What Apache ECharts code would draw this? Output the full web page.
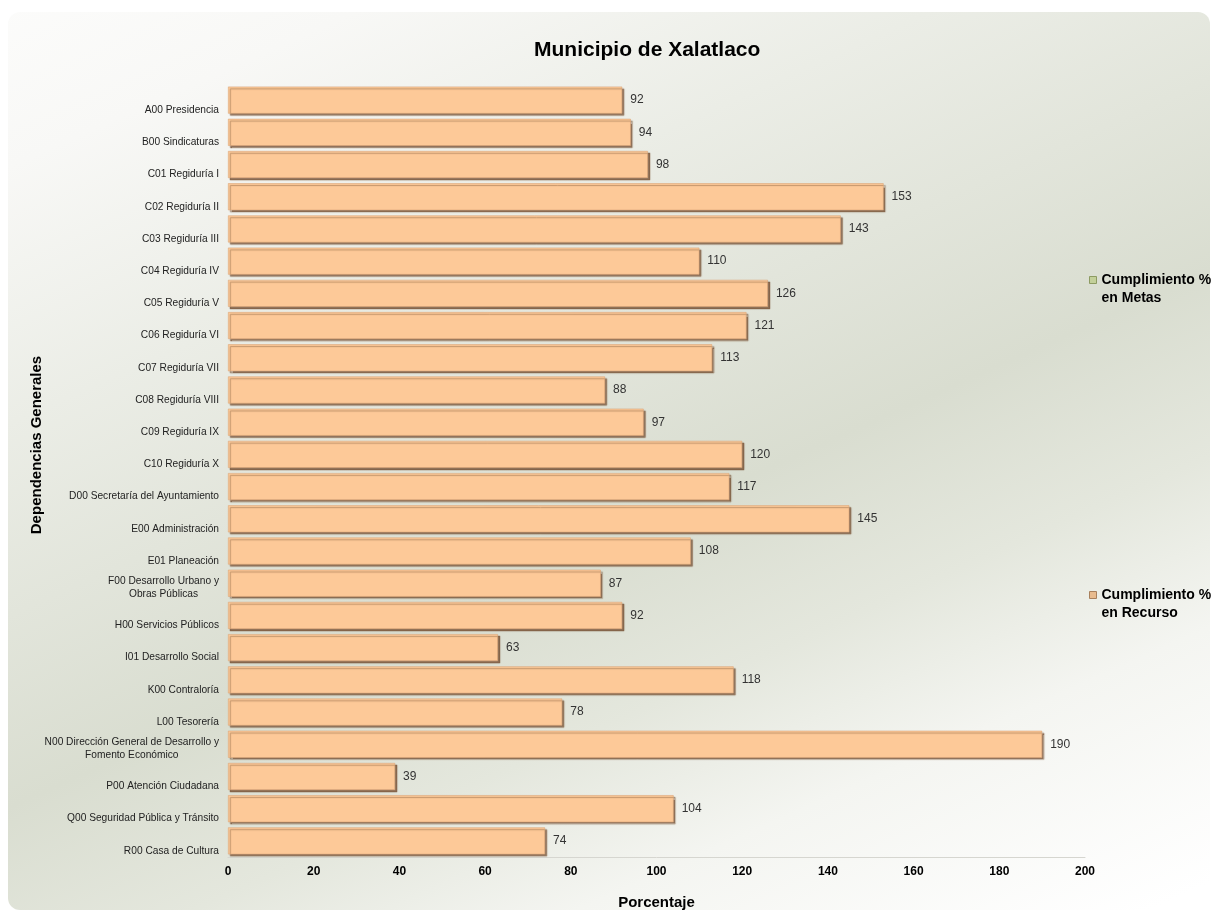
<!DOCTYPE html>
<html><head><meta charset="utf-8">
<script src="https://cdn.jsdelivr.net/npm/echarts@6/dist/echarts.min.js"></script>
<style>html,body{margin:0;padding:0;background:#fff}#c{width:1214px;height:913px}</style>
</head><body><div id="c"></div>
<script>
const categories = ['A00 Presidencia','B00 Sindicaturas','C01 Regiduría I','C02 Regiduría II','C03 Regiduría III','C04 Regiduría IV','C05 Regiduría V','C06 Regiduría VI','C07 Regiduría VII','C08 Regiduría VIII','C09 Regiduría IX','C10 Regiduría X','D00 Secretaría del Ayuntamiento','E00 Administración','E01 Planeación','F00 Desarrollo Urbano y\nObras Públicas','H00 Servicios Públicos','I01 Desarrollo Social','K00 Contraloría','L00 Tesorería','N00 Dirección General de Desarrollo y\nFomento Económico','P00 Atención Ciudadana','Q00 Seguridad Pública y Tránsito','R00 Casa de Cultura'];
const recurso = [92,94,98,153,143,110,126,121,113,88,97,120,117,145,108,87,92,63,118,78,190,39,104,74];
const metas = [];
const xMin = 0, xMax = 200, xInterval = 20;
const seriesNames = ['Cumplimiento %\nen Metas', 'Cumplimiento %\nen Recurso'];
const titleText = 'Municipio de Xalatlaco';
const xAxisName = 'Porcentaje';
const yAxisName = 'Dependencias Generales';

const FF = '"Liberation Sans", Arial, sans-serif';
const chart = echarts.init(document.getElementById('c'));
chart.setOption({
  animation: false,
  textStyle: {fontFamily: FF},
  graphic: [
    {type: 'rect', z: -10, shape: {x: 8, y: 12, width: 1202, height: 898, r: 12},
     style: {fill: new echarts.graphic.LinearGradient(0, 0, 530, 1187, [
       {offset: 0, color: '#fcfcfb'},
       {offset: 0.12, color: '#f8f8f6'},
       {offset: 0.3, color: '#ebede6'},
       {offset: 0.57, color: '#d9ddd0'},
       {offset: 0.7, color: '#e4e7dd'},
       {offset: 0.82, color: '#f4f5f1'},
       {offset: 1, color: '#ffffff'}
     ], true)}},
    {type: 'text', x: 37, y: 445, rotation: Math.PI / 2,
     style: {text: yAxisName, font: 'bold 15px ' + FF, fill: '#000', align: 'center', verticalAlign: 'middle'}}
  ],
  title: {text: titleText, left: 534, top: 40, padding: 0,
    textStyle: {fontSize: 21, fontWeight: 'bold', color: '#000', fontFamily: FF}},
  legend: {
    orient: 'vertical', left: 1089, top: 253, padding: 0, itemGap: 261,
    itemWidth: 7, itemHeight: 7, icon: 'rect',
    formatter: function (name) { return '{sp| }\n' + name; },
    textStyle: {fontSize: 14, fontWeight: 'bold', color: '#000', lineHeight: 18, fontFamily: FF,
      rich: {sp: {height: 18, lineHeight: 18, fontSize: 14}}},
    data: [
      {name: seriesNames[0], itemStyle: {color: '#c3d09a', borderColor: '#8d9b62', borderWidth: 1, shadowBlur: 0, shadowOffsetX: 0, shadowOffsetY: 0}},
      {name: seriesNames[1], itemStyle: {color: '#e8bb8e', borderColor: '#a8805c', borderWidth: 1, shadowBlur: 0, shadowOffsetX: 0, shadowOffsetY: 0}}
    ]
  },
  grid: {left: 228, right: 129, top: 84, bottom: 56, outerBoundsMode: 'none', containLabel: false},
  xAxis: {
    type: 'value', min: xMin, max: xMax, interval: xInterval,
    axisLine: {show: true, lineStyle: {color: '#d6d6d0', width: 1}},
    axisTick: {show: false}, splitLine: {show: false},
    axisLabel: {fontSize: 12, fontWeight: 'bold', color: '#000', margin: 9, fontFamily: FF},
    name: xAxisName, nameLocation: 'middle', nameGap: 38,
    nameTextStyle: {fontSize: 15, fontWeight: 'bold', color: '#000', fontFamily: FF}
  },
  yAxis: {
    type: 'category', data: categories, inverse: true,
    axisLine: {show: false}, axisTick: {show: false},
    axisLabel: {
      interval: 0, showMinLabel: true, showMaxLabel: true, hideOverlap: false,
      fontSize: 10.2, color: '#222', lineHeight: 13, margin: 9, fontFamily: FF,
      formatter: function (v) {
        const lines = v.split('\n');
        if (lines.length === 1) return '{s1| }\n' + v;
        return '{s2| }\n' + lines[0] + '\n{c|' + lines[1] + '}';
      },
      rich: {
        s1: {height: 20, lineHeight: 20, fontSize: 10},
        s2: {height: 8, lineHeight: 8, fontSize: 8},
        c: {align: 'center', fontSize: 10.2, color: '#222', lineHeight: 13, fontFamily: FF}
      }
    }
  },
  series: [
    {name: seriesNames[0], type: 'bar', data: metas, barGap: '-100%', barCategoryGap: '16%',
     itemStyle: {color: '#c3d09a'}},
    {name: seriesNames[1], type: 'bar', data: recurso, barGap: '-100%', barCategoryGap: '16%',
     itemStyle: {color: '#fdc998', borderColor: '#dba679', borderWidth: 0.6,
       shadowColor: 'rgba(115,75,45,0.75)', shadowBlur: 1, shadowOffsetX: 2, shadowOffsetY: 2},
     label: {show: true, position: 'right', distance: 8, fontSize: 12, color: '#333', fontFamily: FF}}
  ]
});
</script></body></html>
